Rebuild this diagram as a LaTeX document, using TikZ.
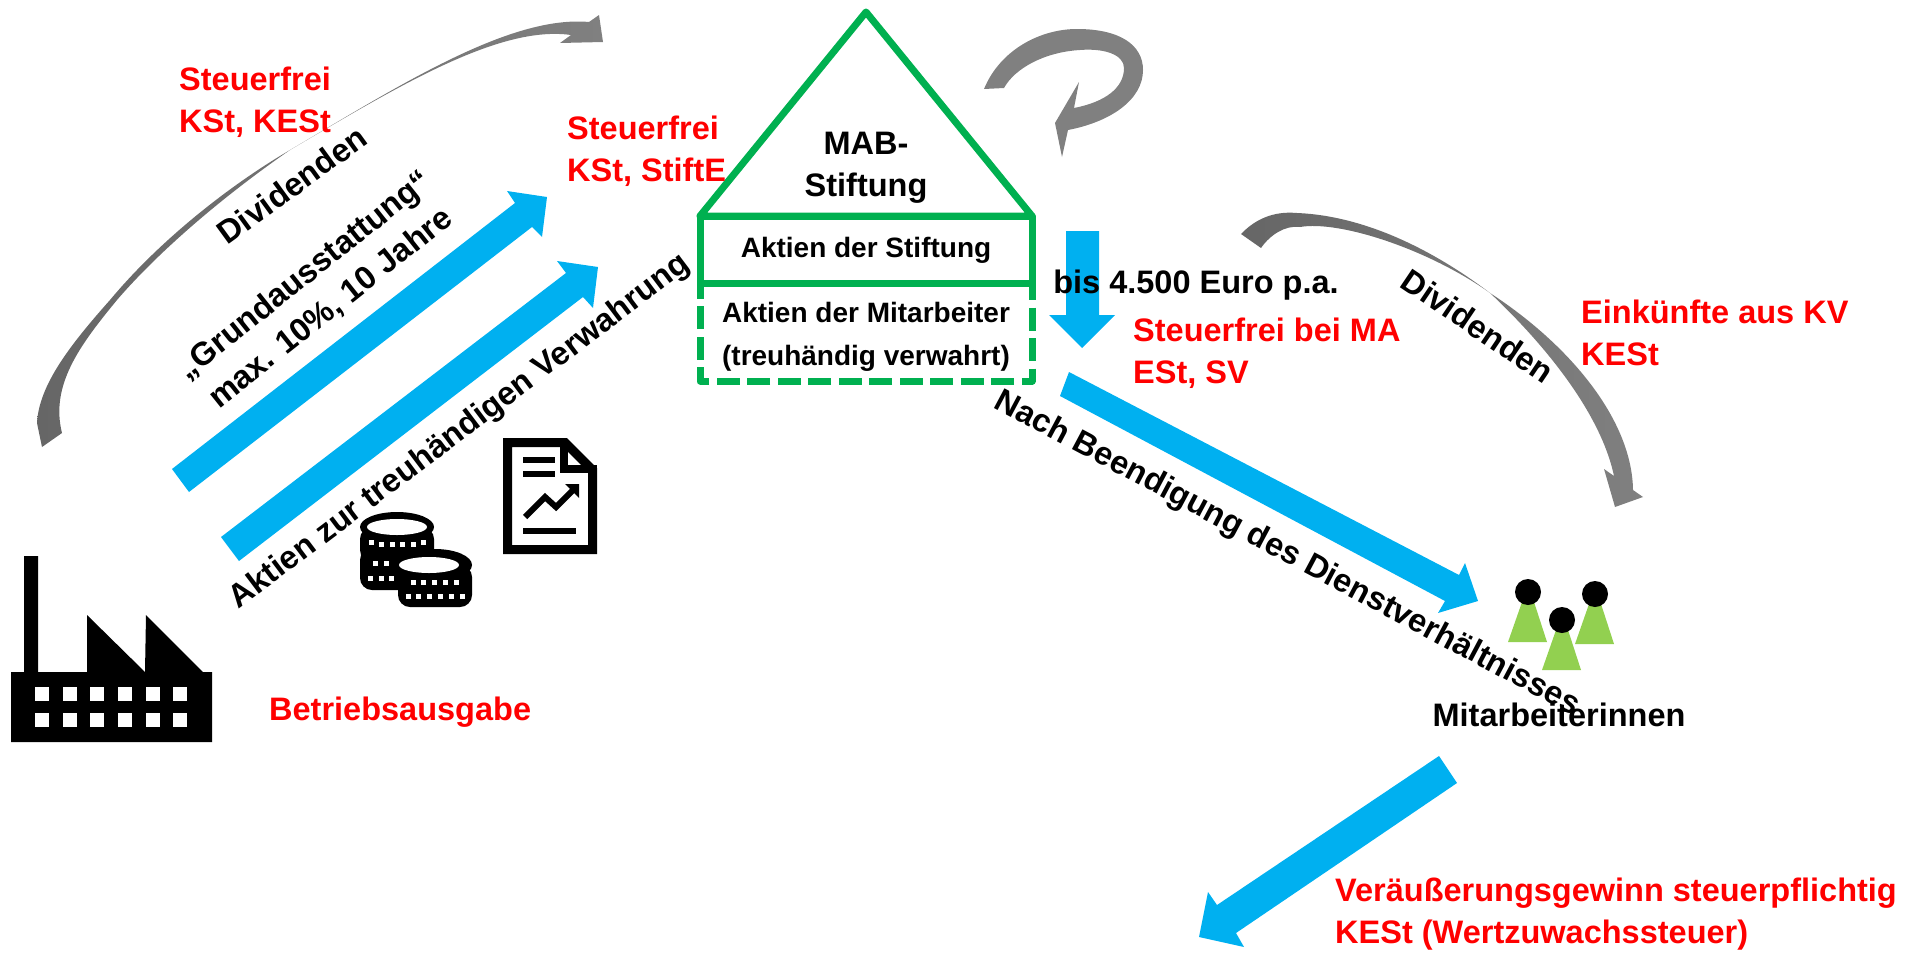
\documentclass[tikz,border=0pt]{standalone}
\usepackage{fontspec}
\setmainfont{Liberation Sans}
\usepackage{xcolor}
\definecolor{mabgreen}{HTML}{00B050}
\definecolor{mabblue}{HTML}{00B0F0}
\definecolor{mabgray}{HTML}{808080}
\definecolor{mabdark}{HTML}{666666}
\definecolor{mablime}{HTML}{92D050}
\usetikzlibrary{positioning}
\tikzset{
    bigtext/.style={inner sep=0pt, align=center, text=black, font=\fontsize{32.5}{42}\selectfont\bfseries},
    redtext/.style={inner sep=0pt, align=left, anchor=west, text=red, font=\fontsize{32.5}{42}\selectfont\bfseries},
    smalltext/.style={inner sep=0pt, align=center, text=black, font=\fontsize{28}{42.5}\selectfont\bfseries},
    bluearrow/.style={fill=mabblue},
    grayarrow/.style={left color=mabdark, right color=mabgray},
    houseline/.style={draw=mabgreen, line width=7pt, line join=round},
}
\begin{document}
\begin{tikzpicture}[x=1pt,y=-1pt]
    \useasboundingbox (0,0) rectangle (1910,953);

    % gray curved arrows
    \shade[grayarrow] (37,423) .. controls (39,385) and (70,345) .. (110,300) .. controls (160,240) and (230,185) .. (290,150) .. controls (400,85) and (510,15) .. (589,22) -- (599,15) -- (603,42) -- (560,43) -- (571,35) .. controls (500,25) and (400,85) .. (290,150) .. controls (225,195) and (160,250) .. (117,300) .. controls (80,345) and (50,385) .. (62,433) -- (42,447) -- cycle; % Dividenden left
    \shade[grayarrow] (1241,234) .. controls (1262,212) and (1285,212) .. (1297,213) .. controls (1370,216) and (1440,255) .. (1490,293) .. controls (1570,345) and (1632,420) .. (1633,490) -- (1643,497) -- (1615,507) -- (1604,469) -- (1614,476) .. controls (1600,410) and (1540,340) .. (1490,293) .. controls (1430,250) and (1340,220) .. (1300,227) .. controls (1285,225) and (1270,235) .. (1261,248) -- cycle; % Dividenden right
    \fill[mabgray] (984,89) .. controls (1000,50) and (1040,29) .. (1077,29) .. controls (1120,29) and (1143,45) .. (1143,70) .. controls (1143,100) and (1110,122) .. (1068,130) -- (1062,157) -- (1055,123) -- (1079,82) -- (1074,108) .. controls (1105,102) and (1124,88) .. (1124,68) .. controls (1124,55) and (1105,48) .. (1080,50) .. controls (1045,52) and (1015,68) .. (1004,88) -- cycle; % loop

    % blue arrows
    \fill[bluearrow] (172,469) -- (515,203) -- (507,191) -- (547,197) -- (542,237) -- (532,227) -- (189,492) -- cycle;
    \fill[bluearrow] (221,537) -- (566,273) -- (557,261) -- (598,267) -- (593,308) -- (583,297) -- (239,561) -- cycle;
    \fill[bluearrow] (1066,231) -- (1099,231) -- (1099,315) -- (1115,315) -- (1082,348) -- (1049,315) -- (1066,315) -- cycle;
    \fill[bluearrow] (1069,372) -- (1459,575) -- (1465,563) -- (1478,601) -- (1438,613) -- (1445,601) -- (1060,396) -- cycle;
    \fill[bluearrow] (1439,756) -- (1457,783) -- (1236,933) -- (1244,947) -- (1199,937) -- (1208,892) -- (1217,905) -- cycle;

    % house
    \draw[houseline] (700,216) -- (866,12) -- (1032,216) -- cycle;
    \draw[houseline] (700,216) rectangle (1032,283);
    \draw[houseline, dash pattern=on 23pt off 7.5pt, dash phase=6pt] (1032,283) -- (1032,381) -- (700,381) -- (700,283);
    \node[bigtext] (mab) at (866,168) {MAB-\\Stiftung};
    \node[smalltext] (aktienS) at (866,250) {Aktien der Stiftung};
    \node[smalltext] (aktienM) at (866,337) {Aktien der Mitarbeiter\\(treuhändig verwahrt)};

    % black labels
    \node[bigtext, rotate=36] (divL) at (292,185) {Dividenden};
    \node[bigtext, rotate=38.5] (grund) at (318,292) {„Grundausstattung“\\max. 10\%, 10 Jahre};
    \node[bigtext, rotate=37] (aktienT) at (460,432) {Aktien zur treuhändigen Verwahrung};
    \node[bigtext] (bis) at (1196,285) {bis 4.500 Euro p.a.};
    \node[bigtext, rotate=-34] (divR) at (1478,326) {Dividenden};
    \node[bigtext, rotate=-28] (nach) at (1287,554) {Nach Beendigung des Dienstverhältnisses};
    \node[bigtext] (ma) at (1559,715) {Mitarbeiterinnen};

    % red labels
    \node[redtext] (frei1) at (179,102) {Steuerfrei\\KSt, KESt};
    \node[redtext] (frei2) at (567,151) {Steuerfrei\\KSt, StiftE};
    \node[redtext] (frei3) at (1133,353) {Steuerfrei bei MA\\ESt, SV};
    \node[redtext] (eink) at (1581,333) {Einkünfte aus KV\\KESt};
    \node[redtext] (betrieb) at (269,712) {Betriebsausgabe};
    \node[redtext] (veraeuss) at (1335,914) {Veräußerungsgewinn steuerpflichtig\\KESt (Wertzuwachssteuer)};

    % people
    \foreach \x/\y in {1528/592, 1595/594, 1562/620} {
        \fill[mablime] (\x-20,\y+50) -- (\x-6,\y+10) -- (\x+6,\y+10) -- (\x+19,\y+50) -- cycle;
        \fill (\x,\y) circle (13);
    }

    % factory
    \fill (11,742) -- (11,672) -- (24,672) -- (24,556) -- (38,556) -- (38,672) -- (87,672) -- (87,615) -- (145,672) -- (146,615) -- (203,672) -- (212,672) -- (212,742) -- cycle;
    \foreach \x in {35,63,90,118,146,173}
        \foreach \y in {687,713}
            \fill[white] (\x,\y) rectangle (\x+14,\y+14);

    % document
    \draw[line width=9pt, miter limit=10] (507.5,442.5) -- (565,442.5) -- (592.5,470) -- (592.5,549.5) -- (507.5,549.5) -- cycle;
    \draw[line width=8pt] (564,442) -- (564,469) -- (597,469);
    \fill (523,457) rectangle (555,463);
    \fill (523,471) rectangle (555,477);
    \fill (523,528) rectangle (576,534);
    \draw[line width=6pt] (525,517) -- (545,497) -- (556,507) -- (575,488);
    \fill (565,484) -- (579,484) -- (579,498) -- cycle;

    % coins
    \fill (397,527) ellipse (37 and 15);
    \fill[rounded corners=12pt] (360,527) rectangle (434,562);
    \fill[rounded corners=12pt] (360,548) rectangle (440,590);
    \fill (435,565) ellipse (37 and 16);
    \fill[rounded corners=12pt] (398,565) rectangle (472,607);
    \fill[white] (397,527) ellipse (30 and 8);
    \fill[white] (429,565) ellipse (30 and 8);
    \foreach \x/\y in {381/544, 392/544, 402/544, 413/544, 371/542, 423/542, 375/563, 386/563, 370/578, 381/578, 391/578, 413/582, 423/582, 434/582, 445/582, 456/582, 408/596, 418/596, 429/596, 440/596, 451/596, 462/596}
        \fill[white] (\x-2.5,\y-2.5) rectangle (\x+2.5,\y+2.5);
\end{tikzpicture}
\end{document}
